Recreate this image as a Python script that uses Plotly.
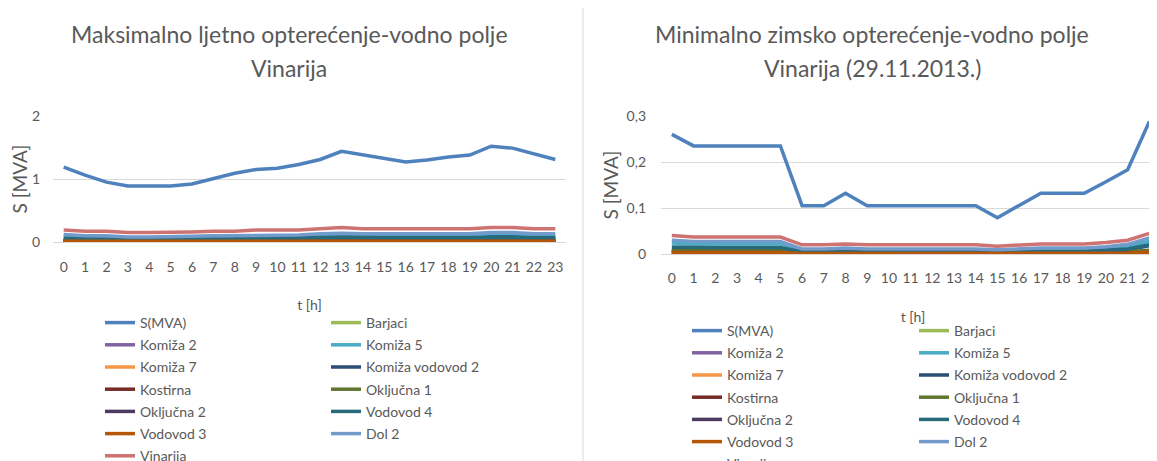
import plotly.graph_objects as go

FONT = "Lato, 'Open Sans', sans-serif"
GREY = "#595959"
GRID = "#D9D9D9"

# --- data -------------------------------------------------------------
hours_summer = list(range(24))
hours_winter = list(range(23))

series_names = [
    "S(MVA)", "Barjaci", "Komiža 2", "Komiža 5", "Komiža 7", "Komiža vodovod 2",
    "Kostirna", "Oključna 1", "Oključna 2", "Vodovod 4", "Vodovod 3", "Dol 2", "Vinarija",
]
series_colors = [
    "#4F81BD", "#9BBB59", "#8064A2", "#4BACC6", "#F79646", "#2C4D75",
    "#772C2A", "#5F7530", "#4D3B62", "#276A7C", "#B65708", "#729ACA", "#CD7371",
]

summer_s = [1.19, 1.06, 0.95, 0.89, 0.89, 0.89, 0.92, 1.00, 1.09, 1.15, 1.17, 1.23,
            1.31, 1.44, 1.38, 1.32, 1.27, 1.30, 1.35, 1.38, 1.52, 1.49, 1.40, 1.31]
summer_barjaci = [0.01, 0.01, 0.01, 0.01, 0.01, 0.01, 0.01, 0.01, 0.01, 0.01, 0.01, 0.01,
                  0.01, 0.02, 0.01, 0.01, 0.01, 0.01, 0.01, 0.01, 0.02, 0.02, 0.01, 0.01]
summer_komiza2 = [0.02, 0.02, 0.02, 0.01, 0.01, 0.01, 0.01, 0.02, 0.02, 0.02, 0.02, 0.02,
                  0.02, 0.03, 0.02, 0.02, 0.02, 0.02, 0.02, 0.02, 0.03, 0.03, 0.02, 0.02]
summer_komiza5 = [0.09, 0.08, 0.08, 0.06, 0.06, 0.06, 0.07, 0.08, 0.08, 0.09, 0.09, 0.09,
                  0.10, 0.11, 0.10, 0.10, 0.10, 0.10, 0.10, 0.10, 0.12, 0.12, 0.10, 0.10]
summer_komiza7 = [0.01, 0.01, 0.01, 0.01, 0.01, 0.01, 0.01, 0.01, 0.01, 0.01, 0.01, 0.01,
                  0.02, 0.02, 0.02, 0.02, 0.02, 0.02, 0.02, 0.02, 0.02, 0.02, 0.02, 0.02]
summer_komiza_vod2 = [0.03, 0.03, 0.03, 0.02, 0.02, 0.02, 0.02, 0.03, 0.03, 0.03, 0.03, 0.03,
                      0.04, 0.05, 0.04, 0.04, 0.04, 0.04, 0.04, 0.05, 0.08, 0.08, 0.06, 0.05]
summer_kostirna = [0.02, 0.02, 0.02, 0.01, 0.01, 0.01, 0.01, 0.02, 0.02, 0.02, 0.02, 0.02,
                   0.02, 0.02, 0.02, 0.02, 0.02, 0.02, 0.02, 0.02, 0.02, 0.02, 0.02, 0.02]
summer_okljucna1 = [0.02, 0.02, 0.01, 0.01, 0.01, 0.01, 0.01, 0.02, 0.02, 0.02, 0.02, 0.02,
                    0.03, 0.03, 0.03, 0.03, 0.03, 0.03, 0.03, 0.03, 0.03, 0.03, 0.03, 0.03]
summer_okljucna2 = [0.01, 0.01, 0.01, 0.01, 0.01, 0.01, 0.01, 0.01, 0.01, 0.01, 0.01, 0.01,
                    0.01, 0.01, 0.01, 0.01, 0.01, 0.01, 0.01, 0.01, 0.01, 0.01, 0.01, 0.01]
summer_vodovod4 = [0.06, 0.05, 0.05, 0.04, 0.04, 0.04, 0.04, 0.05, 0.05, 0.06, 0.06, 0.06,
                   0.07, 0.08, 0.07, 0.07, 0.07, 0.07, 0.07, 0.07, 0.08, 0.08, 0.07, 0.07]
summer_vodovod3 = [0.01, 0.01, 0.01, 0.01, 0.01, 0.01, 0.01, 0.01, 0.01, 0.01, 0.01, 0.01,
                   0.01, 0.02, 0.01, 0.01, 0.01, 0.01, 0.01, 0.01, 0.02, 0.02, 0.01, 0.01]
summer_dol2 = [0.12, 0.10, 0.10, 0.08, 0.08, 0.08, 0.09, 0.10, 0.10, 0.11, 0.11, 0.11,
               0.13, 0.14, 0.13, 0.13, 0.13, 0.13, 0.13, 0.13, 0.15, 0.15, 0.13, 0.13]
summer_vinarija = [0.19, 0.17, 0.17, 0.15, 0.15, 0.15, 0.16, 0.17, 0.17, 0.19, 0.19, 0.19,
                   0.21, 0.23, 0.21, 0.21, 0.21, 0.21, 0.21, 0.21, 0.23, 0.23, 0.21, 0.21]

winter_s = [0.260, 0.235, 0.235, 0.235, 0.235, 0.235, 0.105, 0.105, 0.132, 0.105, 0.105, 0.105,
            0.105, 0.105, 0.105, 0.079, 0.105, 0.132, 0.132, 0.132, 0.157, 0.183, 0.288]
winter_barjaci = [0.004, 0.004, 0.004, 0.004, 0.004, 0.004, 0.002, 0.002, 0.002, 0.002, 0.002, 0.002,
                  0.002, 0.002, 0.002, 0.002, 0.002, 0.002, 0.002, 0.002, 0.003, 0.003, 0.005]
winter_komiza2 = [0.005, 0.005, 0.005, 0.005, 0.005, 0.005, 0.002, 0.002, 0.003, 0.002, 0.002, 0.002,
                  0.002, 0.002, 0.002, 0.002, 0.002, 0.003, 0.003, 0.003, 0.003, 0.004, 0.006]
winter_komiza5 = [0.024, 0.022, 0.022, 0.022, 0.022, 0.022, 0.008, 0.008, 0.010, 0.008, 0.008, 0.008,
                  0.008, 0.008, 0.008, 0.006, 0.008, 0.010, 0.010, 0.010, 0.012, 0.016, 0.028]
winter_komiza7 = [0.003, 0.003, 0.003, 0.003, 0.003, 0.003, 0.001, 0.001, 0.001, 0.001, 0.001, 0.001,
                  0.001, 0.001, 0.001, 0.001, 0.001, 0.001, 0.001, 0.001, 0.002, 0.002, 0.004]
winter_komiza_vod2 = [0.010, 0.009, 0.009, 0.009, 0.009, 0.009, 0.004, 0.004, 0.005, 0.004, 0.004, 0.004,
                      0.004, 0.004, 0.004, 0.003, 0.004, 0.005, 0.005, 0.005, 0.006, 0.009, 0.018]
winter_kostirna = [0.004, 0.004, 0.004, 0.004, 0.004, 0.004, 0.002, 0.002, 0.002, 0.002, 0.002, 0.002,
                   0.002, 0.002, 0.002, 0.002, 0.002, 0.002, 0.002, 0.002, 0.002, 0.003, 0.005]
winter_okljucna1 = [0.007, 0.007, 0.007, 0.007, 0.007, 0.007, 0.003, 0.003, 0.003, 0.003, 0.003, 0.003,
                    0.003, 0.003, 0.003, 0.003, 0.003, 0.003, 0.003, 0.003, 0.004, 0.005, 0.008]
winter_okljucna2 = [0.003, 0.003, 0.003, 0.003, 0.003, 0.003, 0.001, 0.001, 0.001, 0.001, 0.001, 0.001,
                    0.001, 0.001, 0.001, 0.001, 0.001, 0.001, 0.001, 0.001, 0.001, 0.002, 0.003]
winter_vodovod4 = [0.015, 0.014, 0.014, 0.014, 0.014, 0.014, 0.005, 0.005, 0.006, 0.005, 0.005, 0.005,
                   0.005, 0.005, 0.005, 0.004, 0.005, 0.006, 0.006, 0.006, 0.008, 0.011, 0.020]
winter_vodovod3 = [0.003, 0.003, 0.003, 0.003, 0.003, 0.003, 0.001, 0.001, 0.001, 0.001, 0.001, 0.001,
                   0.001, 0.001, 0.001, 0.001, 0.001, 0.001, 0.001, 0.001, 0.002, 0.002, 0.004]
winter_dol2 = [0.030, 0.027, 0.027, 0.027, 0.027, 0.027, 0.011, 0.011, 0.013, 0.011, 0.011, 0.011,
               0.011, 0.011, 0.011, 0.009, 0.011, 0.013, 0.013, 0.013, 0.016, 0.021, 0.035]
winter_vinarija = [0.040, 0.037, 0.037, 0.037, 0.037, 0.037, 0.020, 0.020, 0.022, 0.020, 0.020, 0.020,
                   0.020, 0.020, 0.020, 0.017, 0.020, 0.022, 0.022, 0.022, 0.025, 0.030, 0.045]

summer_values = [summer_s, summer_barjaci, summer_komiza2, summer_komiza5, summer_komiza7,
                 summer_komiza_vod2, summer_kostirna, summer_okljucna1, summer_okljucna2,
                 summer_vodovod4, summer_vodovod3, summer_dol2, summer_vinarija]
winter_values = [winter_s, winter_barjaci, winter_komiza2, winter_komiza5, winter_komiza7,
                 winter_komiza_vod2, winter_kostirna, winter_okljucna1, winter_okljucna2,
                 winter_vodovod4, winter_vodovod3, winter_dol2, winter_vinarija]

summer_yticks = [0, 1, 2]
summer_ytext = ["0", "1", "2"]
winter_yticks = [0, 0.1, 0.2, 0.3]
winter_ytext = ["0", "0,1", "0,2", "0,3"]

summer_title = ["Maksimalno ljetno opterećenje-vodno polje", "Vinarija"]
winter_title = ["Minimalno zimsko opterećenje-vodno polje", "Vinarija (29.11.2013.)"]

# --- figure -----------------------------------------------------------
# The page body adds an 8px margin, so positions below are page pixels - 8.
# The figure is taller than the window so the legends can run off the bottom
# (as in the cropped original) without plotly squeezing the plots.
W, H = 1157, 520


def px(x):
    return x / W


def py(y):
    return 1 - y / H


fig = go.Figure()

# even index -> left legend column, odd -> right column (Excel fills rows)
for i, (name, color) in enumerate(zip(series_names, series_colors)):
    fig.add_trace(go.Scatter(
        x=hours_summer, y=summer_values[i], name=name, mode="lines",
        line=dict(color=color, width=3.5), xaxis="x", yaxis="y",
        legend="legend" if i % 2 == 0 else "legend2", legendgroup=f"s{i}",
    ))
for i, (name, color) in enumerate(zip(series_names, series_colors)):
    fig.add_trace(go.Scatter(
        x=hours_winter, y=winter_values[i], name=name, mode="lines",
        line=dict(color=color, width=3.5), xaxis="x2", yaxis="y2",
        legend="legend3" if i % 2 == 0 else "legend4", legendgroup=f"w{i}",
    ))

axis_font = dict(family=FONT, size=14, color=GREY)
ytitle_font = dict(family=FONT, size=19, color=GREY)


def legend_box(x, y):
    return dict(x=px(x), y=py(y), xanchor="left", yanchor="top", orientation="v",
                font=dict(family=FONT, size=14, color=GREY), bgcolor="rgba(0,0,0,0)",
                tracegroupgap=1, itemclick=False, itemdoubleclick=False)


fig.update_layout(
    width=W, height=H,
    margin=dict(l=0, r=0, t=0, b=0),
    paper_bgcolor="white", plot_bgcolor="white",
    font=dict(family=FONT, color=GREY),
    xaxis=dict(domain=[px(45), px(558)], range=[-0.5, 23.5], tickvals=hours_summer,
               showgrid=False, zeroline=False, showline=True, linecolor=GRID,
               tickfont=axis_font, ticklabelstandoff=12, automargin=False,
               title=dict(text="t [h]", font=axis_font, standoff=26)),
    yaxis=dict(domain=[py(234), py(108)], range=[0, 2], tickvals=summer_yticks,
               ticktext=summer_ytext, gridcolor=GRID, zeroline=False, showline=False,
               tickfont=axis_font, ticklabelstandoff=12, automargin=False,
               title=dict(text="S [MVA]", font=ytitle_font, standoff=0)),
    xaxis2=dict(domain=[px(653), 1.0], range=[-0.5, 22.72], tickvals=hours_winter,
                showgrid=False, zeroline=False, showline=True, linecolor=GRID,
                tickfont=axis_font, ticklabelstandoff=11, anchor="y2", automargin=False,
                title=dict(text="t [h]", font=axis_font, standoff=27)),
    yaxis2=dict(domain=[py(246), py(108)], range=[0, 0.3], tickvals=winter_yticks,
                ticktext=winter_ytext, gridcolor=GRID, zeroline=False, showline=False,
                tickfont=axis_font, ticklabelstandoff=14, anchor="x2", automargin=False,
                title=dict(text="S [MVA]", font=ytitle_font, standoff=2)),
    legend=legend_box(92, 299),
    legend2=legend_box(318, 299),
    legend3=legend_box(679, 307),
    legend4=legend_box(906, 307),
    shapes=[dict(type="line", xref="paper", yref="paper", x0=px(575), x1=px(575),
                 y0=0, y1=1, line=dict(color=GRID, width=1))],
)

title_font = dict(family=FONT, size=23, color=GREY)
for (cx, lines) in ((281, summer_title), (864, winter_title)):
    for k, text in enumerate(lines):
        fig.add_annotation(text=text, x=px(cx), y=py(26 + 34 * k), xref="paper", yref="paper",
                           xanchor="center", yanchor="middle", showarrow=False, font=title_font)

fig.write_html("out.html")
